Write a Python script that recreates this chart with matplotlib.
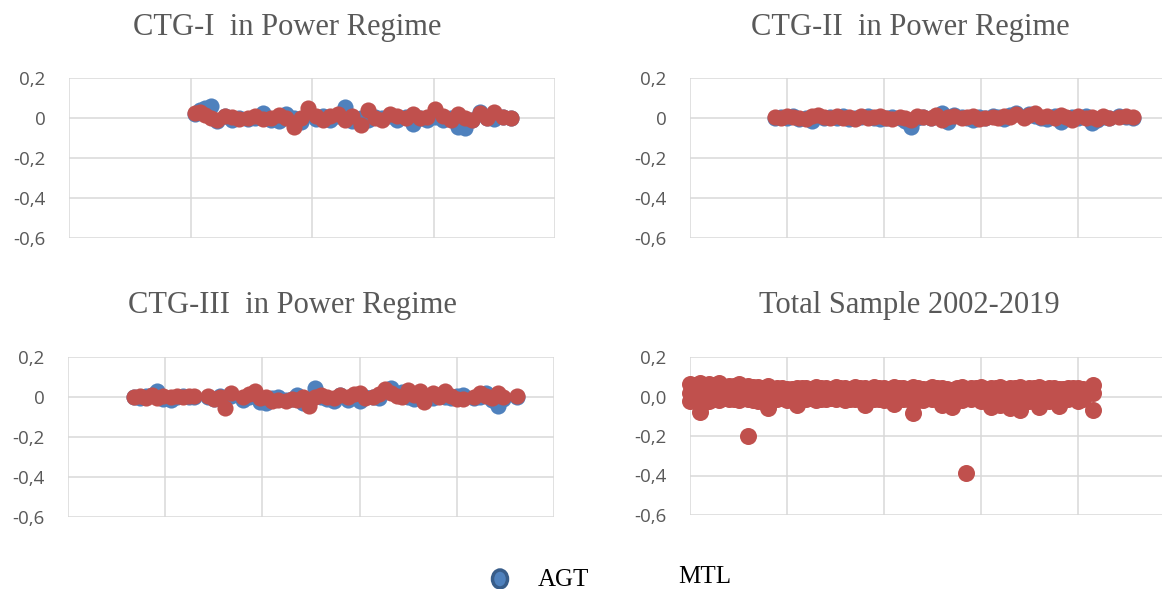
import matplotlib.pyplot as plt
from matplotlib.patches import Ellipse

# figure size in pixels (saved at 100 dpi)
W, H = 1162, 589

BLUE = '#4F81BD'   # AGT
RED = '#C0504D'    # MTL

ytick_vals = [-0.6, -0.4, -0.2, 0.0, 0.2]
ytick_labels = ['-0,6', '-0,4', '-0,2', '0', '0,2']
ytick_labels_total = ['-0,6', '-0,4', '-0,2', '0,0', '0,2']

titles = ['CTG-I  in Power Regime', 'CTG-II  in Power Regime',
          'CTG-III  in Power Regime', 'Total Sample 2002-2019']
legend_labels = ['AGT', 'MTL']

# --- CTG-I ---
ctg1_x = [1.04, 1.08, 1.12, 1.17, 1.22, 1.28, 1.34, 1.40, 1.47, 1.53, 1.60, 1.66,
          1.73, 1.79, 1.85, 1.91, 1.97, 2.03, 2.09, 2.15, 2.21, 2.27, 2.33, 2.40,
          2.46, 2.52, 2.58, 2.64, 2.70, 2.77, 2.83, 2.89, 2.95, 3.01, 3.08, 3.14,
          3.20, 3.26, 3.32, 3.38, 3.44, 3.50, 3.57, 3.64]
ctg1_agt = [0.02, 0.04, 0.05, 0.06, -0.015, 0.01, -0.01, 0.0, -0.005, 0.0, 0.025, -0.01,
            -0.015, 0.02, 0.0, -0.02, 0.02, -0.005, 0.01, -0.01, 0.01, 0.055, -0.015, 0.0,
            -0.01, 0.005, 0.0, 0.01, -0.01, 0.005, -0.03, 0.0, -0.01, 0.005, -0.01, 0.0,
            -0.045, -0.05, -0.01, 0.03, 0.0, -0.005, 0.005, 0.0]
ctg1_mtl = [0.025, 0.03, 0.015, 0.0, -0.01, 0.01, 0.005, -0.005, 0.0, 0.01, -0.005, 0.0,
            0.015, 0.0, -0.045, 0.0, 0.05, 0.01, -0.01, 0.01, 0.02, -0.01, 0.01, -0.035,
            0.04, 0.0, -0.01, 0.02, 0.01, 0.0, 0.02, 0.0, 0.005, 0.045, 0.01, -0.01,
            0.02, 0.0, -0.01, 0.025, 0.0, 0.03, 0.005, 0.0]

# --- CTG-II ---
ctg2_x = [0.88, 0.94, 1.00, 1.06, 1.12, 1.20, 1.26, 1.32, 1.38, 1.44, 1.52, 1.58,
          1.64, 1.70, 1.76, 1.84, 1.90, 1.96, 2.02, 2.08, 2.16, 2.22, 2.28, 2.34,
          2.40, 2.48, 2.54, 2.60, 2.66, 2.72, 2.80, 2.86, 2.92, 2.98, 3.04, 3.12,
          3.18, 3.24, 3.30, 3.36, 3.44, 3.50, 3.56, 3.62, 3.68, 3.76, 3.82, 3.88,
          3.94, 4.00, 4.08, 4.14, 4.20, 4.26, 4.32, 4.42, 4.50, 4.57]
ctg2_agt = [0.0, 0.005, 0.0, 0.01, -0.005, 0.0, -0.015, 0.01, 0.0, 0.005,
            0.0, 0.01, -0.005, 0.0, 0.005, 0.01, 0.0, -0.005, 0.0, 0.005,
            0.0, -0.015, -0.045, 0.0, 0.005, 0.0, 0.01, 0.025, -0.02, 0.015,
            0.005, 0.0, -0.01, 0.005, 0.0, 0.01, 0.005, -0.005, 0.015, 0.025,
            0.005, 0.02, 0.01, 0.0, -0.005, 0.01, -0.02, 0.0, 0.005, 0.0,
            0.01, -0.025, -0.01, 0.005, 0.0, 0.01, 0.005, 0.0]
ctg2_mtl = [0.005, 0.0, 0.01, 0.005, 0.0, -0.005, 0.01, 0.015, 0.005, 0.0,
            0.01, 0.0, 0.005, -0.005, 0.01, 0.0, 0.005, 0.01, 0.0, -0.005,
            0.005, 0.0, -0.01, 0.01, 0.005, 0.0, 0.015, -0.01, 0.005, 0.01,
            0.0, 0.005, 0.01, -0.005, 0.0, 0.005, 0.0, 0.01, 0.005, 0.02,
            0.0, 0.015, 0.025, 0.005, 0.01, 0.0, 0.015, 0.005, -0.01, 0.01,
            0.0, 0.005, -0.005, 0.01, 0.0, 0.005, 0.01, 0.005]

# --- CTG-III ---
ctg3_x = [0.68, 0.74, 0.80, 0.86, 0.92, 0.98, 1.06, 1.12, 1.18, 1.24,
          1.30, 1.44, 1.50, 1.56, 1.62, 1.68, 1.80, 1.86, 1.92, 1.98,
          2.04, 2.10, 2.16, 2.24, 2.30, 2.36, 2.42, 2.48, 2.54, 2.60,
          2.66, 2.74, 2.80, 2.88, 2.94, 3.00, 3.06, 3.14, 3.20, 3.26,
          3.32, 3.38, 3.44, 3.50, 3.56, 3.62, 3.66, 3.76, 3.82, 3.88,
          3.94, 4.00, 4.06, 4.18, 4.24, 4.30, 4.36, 4.42, 4.48, 4.62]
ctg3_agt = [0.0, -0.005, 0.005, 0.01, 0.03, -0.01, -0.015, 0.0, 0.005, 0.0,
            0.0, 0.0, -0.01, 0.005, -0.01, 0.005, -0.015, 0.0, 0.02, -0.025,
            -0.03, -0.005, 0.0, -0.015, -0.01, 0.01, -0.03, -0.02, 0.045, 0.0,
            -0.01, -0.02, 0.01, -0.015, 0.0, -0.02, 0.0, 0.0, -0.005, 0.03,
            0.045, 0.01, 0.025, 0.0, -0.01, 0.02, -0.01, -0.005, 0.01, 0.0,
            -0.005, 0.005, 0.01, -0.005, 0.0, 0.02, -0.015, -0.045, -0.01, 0.0]
ctg3_mtl = [0.0, 0.005, -0.005, 0.01, -0.005, 0.005, 0.0, 0.005, 0.0, 0.005,
            0.005, 0.005, -0.01, 0.0, -0.055, 0.02, 0.0, 0.015, 0.03, -0.005,
            0.0, -0.02, -0.015, -0.02, -0.01, -0.015, 0.0, -0.045, 0.0, 0.01,
            0.0, -0.005, 0.01, 0.0, 0.015, 0.02, -0.005, 0.0, 0.015, 0.04,
            0.02, 0.005, 0.0, 0.035, 0.01, 0.03, -0.025, 0.02, 0.0, 0.03,
            0.005, -0.01, -0.01, 0.0, 0.02, 0.005, -0.005, 0.02, 0.0, 0.005]

# --- Total sample 2002-2019 (MTL covers AGT) ---
total_x = [0.0, 0.1, 0.2, 0.3, 0.4, 0.5, 0.6, 0.7, 0.8, 0.9, 1.0, 1.1, 1.2, 1.3,
           1.4, 1.5, 1.6, 1.7, 1.8, 1.9, 2.0, 2.1, 2.2, 2.3, 2.4, 2.5, 2.6, 2.7,
           2.8, 2.9, 3.0, 3.1, 3.2, 3.3, 3.4, 3.5, 3.6, 3.7, 3.8, 3.9, 4.0, 4.15]
total_high = [0.065, 0.07, 0.065, 0.07, 0.055, 0.065, 0.055, 0.05, 0.055, 0.045, 0.04, 0.045,
              0.045, 0.05, 0.045, 0.05, 0.045, 0.05, 0.045, 0.05, 0.045, 0.05, 0.045, 0.05,
              0.04, 0.05, 0.045, 0.035, 0.05, 0.045, 0.05, 0.045, 0.05, 0.045, 0.05, 0.045,
              0.05, 0.045, 0.04, 0.045, 0.045, 0.06]
total_mid = [0.02, 0.01, 0.015, 0.02, 0.01, 0.015, 0.01, 0.02, 0.015, 0.01, 0.015, 0.02,
             0.01, 0.015, 0.02, 0.01, 0.015, 0.02, 0.01, 0.015, 0.02, 0.01, 0.015, 0.02,
             0.01, 0.015, 0.02, 0.01, 0.015, 0.02, 0.01, 0.015, 0.02, 0.01, 0.015, 0.02,
             0.01, 0.015, 0.02, 0.01, 0.015, 0.02]
total_low = [-0.025, -0.08, -0.025, -0.02, -0.015, -0.02, -0.015, -0.025, -0.06, -0.015,
             -0.02, -0.045, -0.015, -0.02, -0.015, -0.015, -0.02, -0.015, -0.045, -0.015,
             -0.02, -0.04, -0.015, -0.085, -0.02, -0.015, -0.045, -0.055, -0.02, -0.015,
             -0.025, -0.055, -0.045, -0.06, -0.07, -0.025, -0.055, -0.025, -0.05, -0.015,
             -0.025, -0.07]
# in-between days
total_x2 = [0.05, 0.15, 0.25, 0.35, 0.45, 0.55, 0.65, 0.75, 0.85, 0.95, 1.05, 1.15,
            1.25, 1.35, 1.45, 1.55, 1.65, 1.75, 1.85, 1.95, 2.05, 2.15, 2.25, 2.35,
            2.45, 2.55, 2.65, 2.75, 2.85, 2.95, 3.05, 3.15, 3.25, 3.35, 3.45, 3.55,
            3.65, 3.75, 3.85, 3.95, 4.05]
total_high2 = [0.06, 0.055, 0.06, 0.05, 0.055, 0.045, 0.05, 0.045, 0.04, 0.045, 0.04,
               0.045, 0.04, 0.045, 0.04, 0.045, 0.04, 0.045, 0.04, 0.045, 0.04, 0.045,
               0.04, 0.045, 0.04, 0.045, 0.04, 0.045, 0.04, 0.045, 0.04, 0.045, 0.04,
               0.045, 0.04, 0.045, 0.04, 0.045, 0.04, 0.045, 0.04]
total_low2 = [-0.02, -0.03, -0.015, -0.01, -0.015, -0.01, -0.02, -0.01, -0.015, -0.01,
              -0.015, -0.01, -0.01, -0.015, -0.01, -0.01, -0.015, -0.01, -0.01, -0.015,
              -0.01, -0.01, -0.015, -0.02, -0.01, -0.015, -0.01, -0.015, -0.01, -0.01,
              -0.015, -0.01, -0.015, -0.02, -0.015, -0.01, -0.015, -0.01, -0.015, -0.01,
              -0.015]
total_out_x = [0.6, 2.85]
total_out_y = [-0.2, -0.385]

fig = plt.figure(figsize=(W / 100, H / 100), dpi=100)


def make_axes(x0, y0, x1, y1, nx, ylabels):
    ax = fig.add_axes([x0 / W, 1 - y1 / H, (x1 - x0) / W, (y1 - y0) / H])
    ax.set_xlim(0, nx)
    ax.set_ylim(-0.6, 0.2)
    ax.set_xticks(range(nx + 1))
    ax.set_yticks(ytick_vals)
    ax.set_yticklabels(ylabels)
    ax.tick_params(length=0, labelbottom=False, pad=17)
    ax.tick_params(axis='y', labelsize=13.5, labelcolor='#595959')
    for lbl in ax.get_yticklabels():
        lbl.set_family('Open Sans')
    ax.grid(color='#D9D9D9', lw=1.1)
    ax.set_axisbelow(True)
    for s in ax.spines.values():
        s.set_visible(False)
    return ax


ax1 = make_axes(69, 78, 555, 238, 4, ytick_labels)
ax2 = make_axes(690, 78, 1175, 238, 5, ytick_labels)
ax3 = make_axes(68, 357, 554, 517, 5, ytick_labels)
ax4 = make_axes(690, 357, 1175, 515, 5, ytick_labels_total)

ms = 135
for ax, x, agt, mtl in [(ax1, ctg1_x, ctg1_agt, ctg1_mtl),
                        (ax2, ctg2_x, ctg2_agt, ctg2_mtl),
                        (ax3, ctg3_x, ctg3_agt, ctg3_mtl)]:
    ax.scatter(x, agt, s=ms, color=BLUE, lw=0, zorder=3)
    ax.scatter(x, mtl, s=ms, color=RED, lw=0, zorder=4)

for yy in (total_high, total_mid, total_low):
    ax4.scatter(total_x, yy, s=150, color=RED, lw=0, zorder=4, clip_on=False)
for yy in (total_high2, total_low2):
    ax4.scatter(total_x2, yy, s=150, color=RED, lw=0, zorder=4, clip_on=False)
ax4.scatter(total_out_x, total_out_y, s=150, color=RED, lw=0, zorder=4)

# chart titles
title_pos = [(287, 28), (910, 28), (292, 305), (909, 305)]
for (tx, ty), t in zip(title_pos, titles):
    fig.text(tx / W, 1 - ty / H, t, ha='center', va='center',
             family='Liberation Serif', fontsize=22, color='#595959')

# shared legend at the bottom
fig.patches.append(Ellipse((500 / W, 1 - 579 / H), 15 / W, 18 / H,
                           transform=fig.transFigure, facecolor=BLUE,
                           edgecolor='#385D8A', lw=2.5))
fig.text(538 / W, 1 - 580 / H, legend_labels[0], ha='left', va='center',
         family='Liberation Serif', fontsize=18, color='black')
fig.text(678 / W, 1 - 577 / H, legend_labels[1], ha='left', va='center',
         family='Liberation Serif', fontsize=18, color='black')

fig.savefig('out.png', dpi=100)
